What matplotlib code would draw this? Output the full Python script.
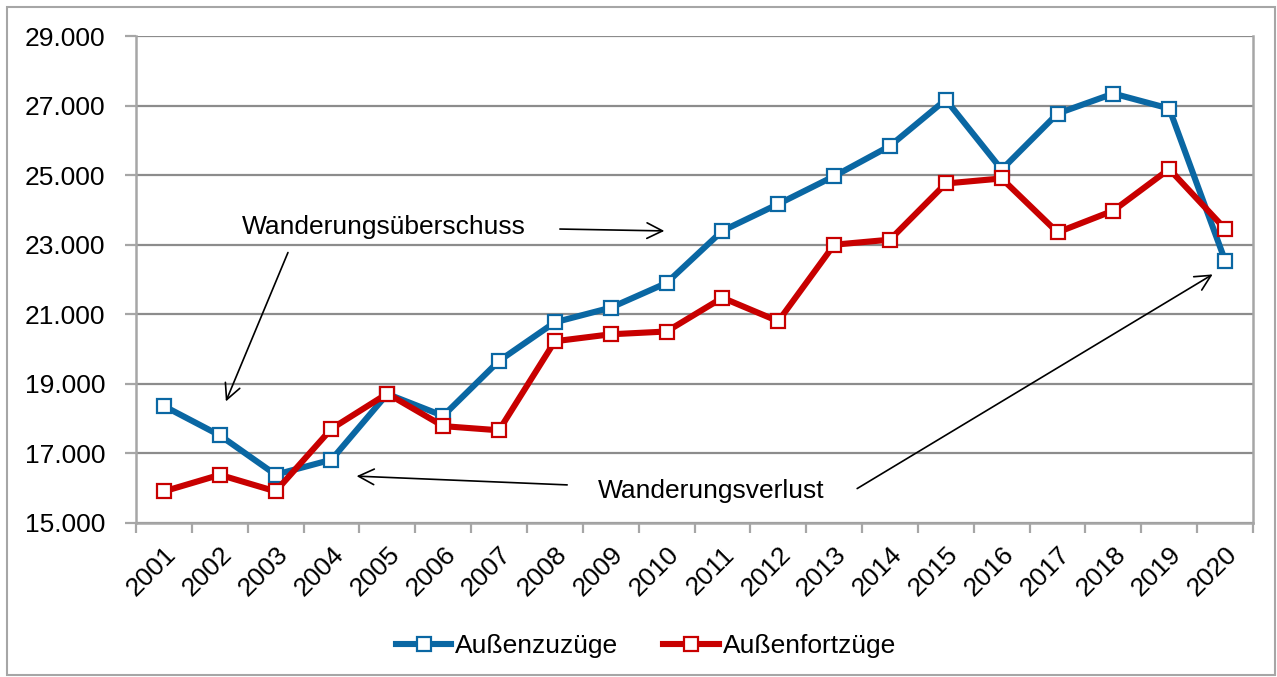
import matplotlib
matplotlib.use("Agg")
import matplotlib.pyplot as plt
from matplotlib.ticker import FuncFormatter, FixedLocator
from matplotlib.patches import Rectangle

plt.rcParams['font.family'] = ['Liberation Sans', 'DejaVu Sans']

years = [str(y) for y in range(2001, 2021)]
zuzuege = [18360, 17520, 16390, 16820, 18710, 18080, 19660, 20770, 21190, 21900,
           23400, 24170, 24970, 25840, 27170, 25160, 26770, 27345, 26915, 22545]
fortzuege = [15910, 16385, 15910, 17710, 18720, 17785, 17665, 20225, 20425, 20505,
             21475, 20800, 23000, 23145, 24760, 24905, 23355, 23980, 25175, 23455]
series_names = ["Außenzuzüge", "Außenfortzüge"]
yticks = list(range(15000, 29001, 2000))

BLUE = "#0A67A3"
RED = "#C80000"
GRID = "#8C8C8C"
AX = "#A6A6A6"
FS = 19

fig = plt.figure(figsize=(12.77, 6.77), dpi=100)
ax = fig.add_axes([136/1277, 1-523/677, (1253-136)/1277, (523-36)/677])

x = list(range(len(years)))
for vals, col, name in [(zuzuege, BLUE, series_names[0]), (fortzuege, RED, series_names[1])]:
    ax.plot(x, vals, color=col, lw=4.4, marker='s', ms=10.5, mfc='white',
            mec=col, mew=1.6, label=name, clip_on=False, zorder=3)

ax.set_xlim(-0.5, len(years)-0.5)
ax.set_ylim(15000, 29000)
ax.set_yticks(yticks)
ax.yaxis.set_major_formatter(FuncFormatter(lambda v, p: f"{int(v):,}".replace(",", ".")))
ax.grid(axis='y', color=GRID, lw=1.6, zorder=0)
ax.set_axisbelow(True)

ax.set_xticks(x)
ax.set_xticklabels(years, rotation=45, ha='right', rotation_mode='anchor')
ax.xaxis.set_minor_locator(FixedLocator([i-0.5 for i in range(len(years)+1)]))
ax.tick_params(axis='x', which='major', length=0, pad=14, labelsize=FS)
ax.tick_params(axis='x', which='minor', length=7, width=1.6, color=AX)
ax.tick_params(axis='y', length=8, width=1.6, color=AX, labelsize=FS, pad=14)

for s in ['left', 'bottom', 'right']:
    ax.spines[s].set_color(AX)
    ax.spines[s].set_linewidth(1.8)
ax.spines['top'].set_visible(False)

arrow = dict(arrowstyle='->', color='black', lw=1.2, mutation_scale=28)
ax.annotate('', xy=(9.01, 23395), xytext=(7.04, 23452), arrowprops=arrow)
ax.annotate('', xy=(1.09, 18421), xytext=(2.24, 22849), arrowprops=arrow)
ax.annotate('', xy=(3.40, 16351), xytext=(7.27, 16092), arrowprops=arrow)
ax.annotate('', xy=(18.82, 22188), xytext=(12.37, 15949), arrowprops=arrow)
ax.text(1.40, 23510, "Wanderungsüberschuss", fontsize=FS, va='center', ha='left')
ax.text(7.77, 15920, "Wanderungsverlust", fontsize=FS, va='center', ha='left')

leg = fig.legend(loc='center', bbox_to_anchor=(646/1277, 1-646/677), ncol=2, frameon=False,
                 fontsize=FS, handlelength=2.1, columnspacing=1.7, handletextpad=0.15)

fig.patches.append(Rectangle((7/1277, 2/677), 1268/1277, 668/677, transform=fig.transFigure,
                             fill=False, edgecolor=AX, lw=1.5))

fig.savefig("out.png", dpi=100)
